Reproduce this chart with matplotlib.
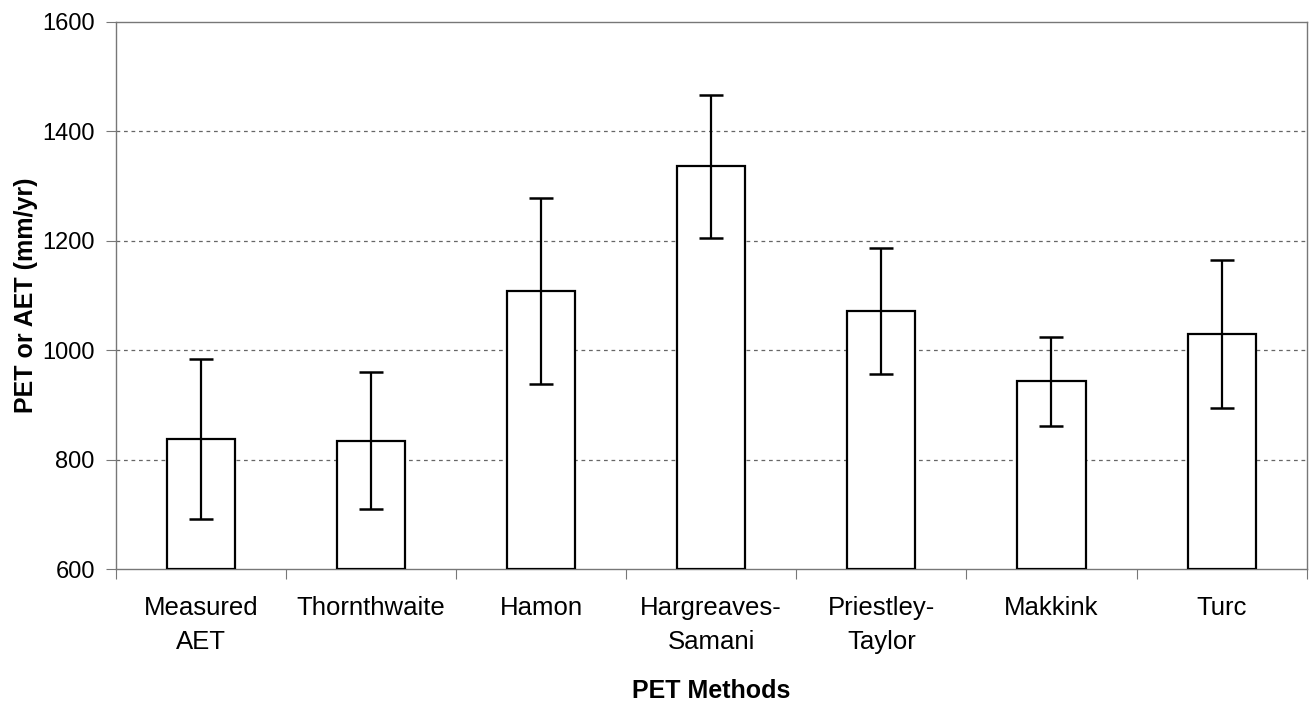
import matplotlib
matplotlib.use("Agg")
import matplotlib.pyplot as plt
import numpy as np

categories = ["Measured\nAET", "Thornthwaite", "Hamon", "Hargreaves-\nSamani",
              "Priestley-\nTaylor", "Makkink", "Turc"]
values = [838, 835, 1108, 1336, 1071, 943, 1030]
errors = [146, 125, 170, 131, 115, 81, 135]
yticks = [600, 800, 1000, 1200, 1400, 1600]

plt.rcParams['font.family'] = ['Liberation Sans', 'DejaVu Sans']

fig = plt.figure(figsize=(13.1, 7.07), dpi=100)
ax = fig.add_axes([0.0883, 0.1948, 0.9092, 0.7745])

x = np.arange(len(categories))
ax.bar(x, [v - 600 for v in values], bottom=600, width=0.40,
       color='white', edgecolor='black', linewidth=1.6, zorder=3)
ax.errorbar(x, values, yerr=errors, fmt='none', ecolor='black',
            elinewidth=1.6, capsize=8.5, capthick=1.8, zorder=4)

ax.set_xlim(-0.5, len(categories) - 0.5)
ax.set_ylim(600, 1600)
ax.set_yticks(yticks)
ax.set_yticklabels([str(t) for t in yticks], fontsize=17)

ax.set_xticks(x)
ax.set_xticklabels(categories, fontsize=18.5, linespacing=1.55, va='top')
ax.tick_params(axis='x', which='major', length=0, pad=19)
ax.set_xticks(np.arange(-0.5, len(categories) + 0.5, 1), minor=True)
ax.tick_params(axis='x', which='minor', length=7, color='#777777', width=0.8)
ax.tick_params(axis='y', length=7, color='#777777', width=0.8, pad=8)

for g in yticks[1:-1]:
    ax.axhline(g, color='#666666', linestyle=(0, (3, 3)), linewidth=0.9, zorder=1)

for s in ax.spines.values():
    s.set_color('#777777')
    s.set_linewidth(1.0)

ax.set_ylabel("PET or AET (mm/yr)", fontsize=18, fontweight='bold', labelpad=3)
ax.set_xlabel("PET Methods", fontsize=18, fontweight='bold', labelpad=18)

fig.savefig("out.png", dpi=100)
